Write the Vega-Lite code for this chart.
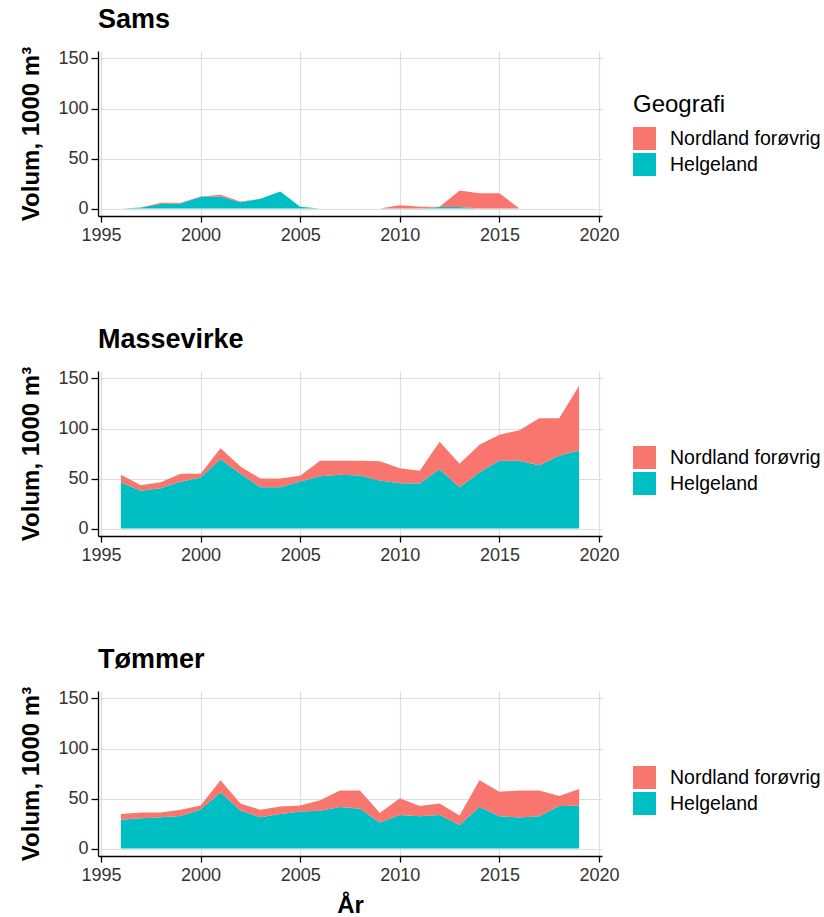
{
  "$schema": "https://vega.github.io/schema/vega-lite/v6.json",
  "background": "white",
  "padding": {"left": 19, "top": 6, "right": 5, "bottom": 2},
  "datasets": {
    "d": [
      {"S":"Sams","Aar":1996,"Geografi":"Helgeland","Volum":0},
      {"S":"Sams","Aar":1997,"Geografi":"Helgeland","Volum":1},
      {"S":"Sams","Aar":1998,"Geografi":"Helgeland","Volum":4.5},
      {"S":"Sams","Aar":1999,"Geografi":"Helgeland","Volum":5},
      {"S":"Sams","Aar":2000,"Geografi":"Helgeland","Volum":11.7},
      {"S":"Sams","Aar":2001,"Geografi":"Helgeland","Volum":12},
      {"S":"Sams","Aar":2002,"Geografi":"Helgeland","Volum":6.3},
      {"S":"Sams","Aar":2003,"Geografi":"Helgeland","Volum":9.7},
      {"S":"Sams","Aar":2004,"Geografi":"Helgeland","Volum":17},
      {"S":"Sams","Aar":2005,"Geografi":"Helgeland","Volum":1.7},
      {"S":"Sams","Aar":2006,"Geografi":"Helgeland","Volum":0},
      {"S":"Sams","Aar":2007,"Geografi":"Helgeland","Volum":0},
      {"S":"Sams","Aar":2008,"Geografi":"Helgeland","Volum":0},
      {"S":"Sams","Aar":2009,"Geografi":"Helgeland","Volum":0},
      {"S":"Sams","Aar":2010,"Geografi":"Helgeland","Volum":0},
      {"S":"Sams","Aar":2011,"Geografi":"Helgeland","Volum":0},
      {"S":"Sams","Aar":2012,"Geografi":"Helgeland","Volum":1.5},
      {"S":"Sams","Aar":2013,"Geografi":"Helgeland","Volum":1.5},
      {"S":"Sams","Aar":2014,"Geografi":"Helgeland","Volum":0},
      {"S":"Sams","Aar":2015,"Geografi":"Helgeland","Volum":0},
      {"S":"Sams","Aar":2016,"Geografi":"Helgeland","Volum":0},
      {"S":"Sams","Aar":2017,"Geografi":"Helgeland","Volum":0},
      {"S":"Sams","Aar":2018,"Geografi":"Helgeland","Volum":0},
      {"S":"Sams","Aar":2019,"Geografi":"Helgeland","Volum":0},
      {"S":"Sams","Aar":1996,"Geografi":"Nordland forøvrig","Volum":0},
      {"S":"Sams","Aar":1997,"Geografi":"Nordland forøvrig","Volum":0},
      {"S":"Sams","Aar":1998,"Geografi":"Nordland forøvrig","Volum":1.2},
      {"S":"Sams","Aar":1999,"Geografi":"Nordland forøvrig","Volum":0.8},
      {"S":"Sams","Aar":2000,"Geografi":"Nordland forøvrig","Volum":0.3},
      {"S":"Sams","Aar":2001,"Geografi":"Nordland forøvrig","Volum":1.7},
      {"S":"Sams","Aar":2002,"Geografi":"Nordland forøvrig","Volum":0.7},
      {"S":"Sams","Aar":2003,"Geografi":"Nordland forøvrig","Volum":0},
      {"S":"Sams","Aar":2004,"Geografi":"Nordland forøvrig","Volum":0},
      {"S":"Sams","Aar":2005,"Geografi":"Nordland forøvrig","Volum":0},
      {"S":"Sams","Aar":2006,"Geografi":"Nordland forøvrig","Volum":0},
      {"S":"Sams","Aar":2007,"Geografi":"Nordland forøvrig","Volum":0},
      {"S":"Sams","Aar":2008,"Geografi":"Nordland forøvrig","Volum":0},
      {"S":"Sams","Aar":2009,"Geografi":"Nordland forøvrig","Volum":0},
      {"S":"Sams","Aar":2010,"Geografi":"Nordland forøvrig","Volum":3.3},
      {"S":"Sams","Aar":2011,"Geografi":"Nordland forøvrig","Volum":1.7},
      {"S":"Sams","Aar":2012,"Geografi":"Nordland forøvrig","Volum":0.2},
      {"S":"Sams","Aar":2013,"Geografi":"Nordland forøvrig","Volum":16.5},
      {"S":"Sams","Aar":2014,"Geografi":"Nordland forøvrig","Volum":15.3},
      {"S":"Sams","Aar":2015,"Geografi":"Nordland forøvrig","Volum":15.3},
      {"S":"Sams","Aar":2016,"Geografi":"Nordland forøvrig","Volum":0},
      {"S":"Sams","Aar":2017,"Geografi":"Nordland forøvrig","Volum":0},
      {"S":"Sams","Aar":2018,"Geografi":"Nordland forøvrig","Volum":0},
      {"S":"Sams","Aar":2019,"Geografi":"Nordland forøvrig","Volum":0},

      {"S":"Massevirke","Aar":1996,"Geografi":"Helgeland","Volum":46},
      {"S":"Massevirke","Aar":1997,"Geografi":"Helgeland","Volum":37.7},
      {"S":"Massevirke","Aar":1998,"Geografi":"Helgeland","Volum":40.3},
      {"S":"Massevirke","Aar":1999,"Geografi":"Helgeland","Volum":46.7},
      {"S":"Massevirke","Aar":2000,"Geografi":"Helgeland","Volum":51},
      {"S":"Massevirke","Aar":2001,"Geografi":"Helgeland","Volum":69.3},
      {"S":"Massevirke","Aar":2002,"Geografi":"Helgeland","Volum":54.7},
      {"S":"Massevirke","Aar":2003,"Geografi":"Helgeland","Volum":41.3},
      {"S":"Massevirke","Aar":2004,"Geografi":"Helgeland","Volum":41.3},
      {"S":"Massevirke","Aar":2005,"Geografi":"Helgeland","Volum":47},
      {"S":"Massevirke","Aar":2006,"Geografi":"Helgeland","Volum":52.3},
      {"S":"Massevirke","Aar":2007,"Geografi":"Helgeland","Volum":53.7},
      {"S":"Massevirke","Aar":2008,"Geografi":"Helgeland","Volum":53},
      {"S":"Massevirke","Aar":2009,"Geografi":"Helgeland","Volum":48},
      {"S":"Massevirke","Aar":2010,"Geografi":"Helgeland","Volum":45.3},
      {"S":"Massevirke","Aar":2011,"Geografi":"Helgeland","Volum":45},
      {"S":"Massevirke","Aar":2012,"Geografi":"Helgeland","Volum":59.3},
      {"S":"Massevirke","Aar":2013,"Geografi":"Helgeland","Volum":41.3},
      {"S":"Massevirke","Aar":2014,"Geografi":"Helgeland","Volum":56.3},
      {"S":"Massevirke","Aar":2015,"Geografi":"Helgeland","Volum":67.7},
      {"S":"Massevirke","Aar":2016,"Geografi":"Helgeland","Volum":67.7},
      {"S":"Massevirke","Aar":2017,"Geografi":"Helgeland","Volum":63.3},
      {"S":"Massevirke","Aar":2018,"Geografi":"Helgeland","Volum":72.7},
      {"S":"Massevirke","Aar":2019,"Geografi":"Helgeland","Volum":78},
      {"S":"Massevirke","Aar":1996,"Geografi":"Nordland forøvrig","Volum":7.7},
      {"S":"Massevirke","Aar":1997,"Geografi":"Nordland forøvrig","Volum":5.6},
      {"S":"Massevirke","Aar":1998,"Geografi":"Nordland forøvrig","Volum":6},
      {"S":"Massevirke","Aar":1999,"Geografi":"Nordland forøvrig","Volum":8},
      {"S":"Massevirke","Aar":2000,"Geografi":"Nordland forøvrig","Volum":3.7},
      {"S":"Massevirke","Aar":2001,"Geografi":"Nordland forøvrig","Volum":11},
      {"S":"Massevirke","Aar":2002,"Geografi":"Nordland forøvrig","Volum":7.3},
      {"S":"Massevirke","Aar":2003,"Geografi":"Nordland forøvrig","Volum":8.7},
      {"S":"Massevirke","Aar":2004,"Geografi":"Nordland forøvrig","Volum":8.7},
      {"S":"Massevirke","Aar":2005,"Geografi":"Nordland forøvrig","Volum":5.7},
      {"S":"Massevirke","Aar":2006,"Geografi":"Nordland forøvrig","Volum":15.4},
      {"S":"Massevirke","Aar":2007,"Geografi":"Nordland forøvrig","Volum":14},
      {"S":"Massevirke","Aar":2008,"Geografi":"Nordland forøvrig","Volum":14.7},
      {"S":"Massevirke","Aar":2009,"Geografi":"Nordland forøvrig","Volum":19.3},
      {"S":"Massevirke","Aar":2010,"Geografi":"Nordland forøvrig","Volum":15},
      {"S":"Massevirke","Aar":2011,"Geografi":"Nordland forøvrig","Volum":12.7},
      {"S":"Massevirke","Aar":2012,"Geografi":"Nordland forøvrig","Volum":27.4},
      {"S":"Massevirke","Aar":2013,"Geografi":"Nordland forøvrig","Volum":23.4},
      {"S":"Massevirke","Aar":2014,"Geografi":"Nordland forøvrig","Volum":27.4},
      {"S":"Massevirke","Aar":2015,"Geografi":"Nordland forøvrig","Volum":26},
      {"S":"Massevirke","Aar":2016,"Geografi":"Nordland forøvrig","Volum":30.6},
      {"S":"Massevirke","Aar":2017,"Geografi":"Nordland forøvrig","Volum":47},
      {"S":"Massevirke","Aar":2018,"Geografi":"Nordland forøvrig","Volum":37.6},
      {"S":"Massevirke","Aar":2019,"Geografi":"Nordland forøvrig","Volum":64.7},

      {"S":"Tømmer","Aar":1996,"Geografi":"Helgeland","Volum":28.8},
      {"S":"Tømmer","Aar":1997,"Geografi":"Helgeland","Volum":30.2},
      {"S":"Tømmer","Aar":1998,"Geografi":"Helgeland","Volum":31.2},
      {"S":"Tømmer","Aar":1999,"Geografi":"Helgeland","Volum":32.6},
      {"S":"Tømmer","Aar":2000,"Geografi":"Helgeland","Volum":39},
      {"S":"Tømmer","Aar":2001,"Geografi":"Helgeland","Volum":56},
      {"S":"Tømmer","Aar":2002,"Geografi":"Helgeland","Volum":38},
      {"S":"Tømmer","Aar":2003,"Geografi":"Helgeland","Volum":31.2},
      {"S":"Tømmer","Aar":2004,"Geografi":"Helgeland","Volum":34.6},
      {"S":"Tømmer","Aar":2005,"Geografi":"Helgeland","Volum":37},
      {"S":"Tømmer","Aar":2006,"Geografi":"Helgeland","Volum":37.7},
      {"S":"Tømmer","Aar":2007,"Geografi":"Helgeland","Volum":41.4},
      {"S":"Tømmer","Aar":2008,"Geografi":"Helgeland","Volum":39.7},
      {"S":"Tømmer","Aar":2009,"Geografi":"Helgeland","Volum":26.1},
      {"S":"Tømmer","Aar":2010,"Geografi":"Helgeland","Volum":33.6},
      {"S":"Tømmer","Aar":2011,"Geografi":"Helgeland","Volum":32.2},
      {"S":"Tømmer","Aar":2012,"Geografi":"Helgeland","Volum":33.6},
      {"S":"Tømmer","Aar":2013,"Geografi":"Helgeland","Volum":23.4},
      {"S":"Tømmer","Aar":2014,"Geografi":"Helgeland","Volum":41.4},
      {"S":"Tømmer","Aar":2015,"Geografi":"Helgeland","Volum":32.2},
      {"S":"Tømmer","Aar":2016,"Geografi":"Helgeland","Volum":30.9},
      {"S":"Tømmer","Aar":2017,"Geografi":"Helgeland","Volum":32.2},
      {"S":"Tømmer","Aar":2018,"Geografi":"Helgeland","Volum":42.4},
      {"S":"Tømmer","Aar":2019,"Geografi":"Helgeland","Volum":42.8},
      {"S":"Tømmer","Aar":1996,"Geografi":"Nordland forøvrig","Volum":5.8},
      {"S":"Tømmer","Aar":1997,"Geografi":"Nordland forøvrig","Volum":5.8},
      {"S":"Tømmer","Aar":1998,"Geografi":"Nordland forøvrig","Volum":4.8},
      {"S":"Tømmer","Aar":1999,"Geografi":"Nordland forøvrig","Volum":6.1},
      {"S":"Tømmer","Aar":2000,"Geografi":"Nordland forøvrig","Volum":4.1},
      {"S":"Tømmer","Aar":2001,"Geografi":"Nordland forøvrig","Volum":12.2},
      {"S":"Tømmer","Aar":2002,"Geografi":"Nordland forøvrig","Volum":7.1},
      {"S":"Tømmer","Aar":2003,"Geografi":"Nordland forøvrig","Volum":7.5},
      {"S":"Tømmer","Aar":2004,"Geografi":"Nordland forøvrig","Volum":7.5},
      {"S":"Tømmer","Aar":2005,"Geografi":"Nordland forøvrig","Volum":6.1},
      {"S":"Tømmer","Aar":2006,"Geografi":"Nordland forøvrig","Volum":10.5},
      {"S":"Tømmer","Aar":2007,"Geografi":"Nordland forøvrig","Volum":16.6},
      {"S":"Tømmer","Aar":2008,"Geografi":"Nordland forøvrig","Volum":18.3},
      {"S":"Tømmer","Aar":2009,"Geografi":"Nordland forøvrig","Volum":9.5},
      {"S":"Tømmer","Aar":2010,"Geografi":"Nordland forøvrig","Volum":16.6},
      {"S":"Tømmer","Aar":2011,"Geografi":"Nordland forøvrig","Volum":10.2},
      {"S":"Tømmer","Aar":2012,"Geografi":"Nordland forøvrig","Volum":11.5},
      {"S":"Tømmer","Aar":2013,"Geografi":"Nordland forøvrig","Volum":9.5},
      {"S":"Tømmer","Aar":2014,"Geografi":"Nordland forøvrig","Volum":26.8},
      {"S":"Tømmer","Aar":2015,"Geografi":"Nordland forøvrig","Volum":24.5},
      {"S":"Tømmer","Aar":2016,"Geografi":"Nordland forøvrig","Volum":27.1},
      {"S":"Tømmer","Aar":2017,"Geografi":"Nordland forøvrig","Volum":25.8},
      {"S":"Tømmer","Aar":2018,"Geografi":"Nordland forøvrig","Volum":10.2},
      {"S":"Tømmer","Aar":2019,"Geografi":"Nordland forøvrig","Volum":16.6}
    ]
  },
  "config": {
    "font": "Liberation Sans",
    "view": {"stroke": null},
    "axis": {
      "grid": true, "gridColor": "#DEDEDE", "gridWidth": 1.2,
      "domainColor": "#000000", "domainWidth": 1.3,
      "tickColor": "#000000", "tickWidth": 1.3,
      "labelFontSize": 18, "labelColor": "#333333", "labelFont": "Liberation Sans",
      "titleFontSize": 24, "titleFontWeight": "bold", "titleColor": "#000000", "titleFont": "Liberation Sans"
    },
    "axisX": {"tickSize": 6, "labelPadding": 4, "titlePadding": 9},
    "axisY": {"tickSize": 7, "labelPadding": 3, "titlePadding": 14},
    "title": {"anchor": "start", "frame": "group", "fontSize": 27, "fontWeight": "bold", "color": "#000000", "offset": 12, "font": "Liberation Sans"},
    "legend": {
      "labelFontSize": 19.5, "titleFontSize": 24, "titleFontWeight": "normal",
      "labelColor": "#000000", "titleColor": "#000000", "labelFont": "Liberation Sans", "titleFont": "Liberation Sans",
      "symbolType": "square", "symbolSize": 529, "symbolStrokeWidth": 0, "symbolOpacity": 1,
      "rowPadding": 3, "labelOffset": 14, "titlePadding": 10, "padding": 0
    }
  },
  "spacing": 82,
  "resolve": {"legend": {"color": "independent"}},
  "vconcat": [
    {
      "title": {"text": "Sams"},
      "width": 504, "height": 165,
      "data": {"name": "d"},
      "transform": [{"filter": "datum.S === 'Sams'"}],
      "mark": {"type": "area", "opacity": 1, "interpolate": "linear"},
      "encoding": {
        "x": {"field": "Aar", "type": "quantitative", "scale": {"domain": [1994.85, 2020.15], "nice": false, "zero": false}, "axis": {"values": [1995, 2000, 2005, 2010, 2015, 2020], "format": "d", "title": null}},
        "y": {"field": "Volum", "type": "quantitative", "stack": "zero", "scale": {"domain": [-7.5, 157.5], "nice": false, "zero": false}, "axis": {"values": [0, 50, 100, 150], "title": "Volum, 1000 m³"}},
        "color": {"field": "Geografi", "type": "nominal", "scale": {"domain": ["Nordland forøvrig", "Helgeland"], "range": ["#F8766D", "#00BFC4"]}, "legend": {"title": "Geografi", "orient": "none", "legendX": 535, "legendY": 42}},
        "order": {"field": "Geografi", "sort": "ascending"}
      }
    },
    {
      "title": {"text": "Massevirke"},
      "width": 504, "height": 165,
      "data": {"name": "d"},
      "transform": [{"filter": "datum.S === 'Massevirke'"}],
      "mark": {"type": "area", "opacity": 1, "interpolate": "linear"},
      "encoding": {
        "x": {"field": "Aar", "type": "quantitative", "scale": {"domain": [1994.85, 2020.15], "nice": false, "zero": false}, "axis": {"values": [1995, 2000, 2005, 2010, 2015, 2020], "format": "d", "title": null}},
        "y": {"field": "Volum", "type": "quantitative", "stack": "zero", "scale": {"domain": [-7.5, 157.5], "nice": false, "zero": false}, "axis": {"values": [0, 50, 100, 150], "title": "Volum, 1000 m³"}},
        "color": {"field": "Geografi", "type": "nominal", "scale": {"domain": ["Nordland forøvrig", "Helgeland"], "range": ["#F8766D", "#00BFC4"]}, "legend": {"title": null, "orient": "none", "legendX": 535, "legendY": 75}},
        "order": {"field": "Geografi", "sort": "ascending"}
      }
    },
    {
      "title": {"text": "Tømmer"},
      "width": 504, "height": 165,
      "data": {"name": "d"},
      "transform": [{"filter": "datum.S === 'Tømmer'"}],
      "mark": {"type": "area", "opacity": 1, "interpolate": "linear"},
      "encoding": {
        "x": {"field": "Aar", "type": "quantitative", "scale": {"domain": [1994.85, 2020.15], "nice": false, "zero": false}, "axis": {"values": [1995, 2000, 2005, 2010, 2015, 2020], "format": "d", "title": "År"}},
        "y": {"field": "Volum", "type": "quantitative", "stack": "zero", "scale": {"domain": [-7.5, 157.5], "nice": false, "zero": false}, "axis": {"values": [0, 50, 100, 150], "title": "Volum, 1000 m³"}},
        "color": {"field": "Geografi", "type": "nominal", "scale": {"domain": ["Nordland forøvrig", "Helgeland"], "range": ["#F8766D", "#00BFC4"]}, "legend": {"title": null, "orient": "none", "legendX": 535, "legendY": 75}},
        "order": {"field": "Geografi", "sort": "ascending"}
      }
    }
  ]
}
